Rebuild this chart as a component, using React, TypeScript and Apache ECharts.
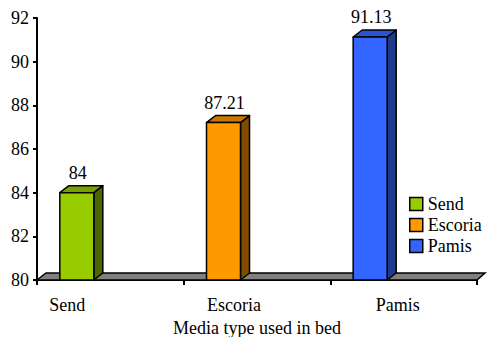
import React, { useEffect, useRef } from "react";
import * as echarts from "echarts";

// Media types and their measured values
const categories = ["Send", "Escoria", "Pamis"];
const values = [84, 87.21, 91.13];

// Value axis range
const yMin = 80;
const yMax = 92;
const yStep = 2;

// Face colours for the 3D columns
const frontColors = ["#99CC00", "#FF9900", "#3366FF"];
const topColors = ["#79A000", "#C97800", "#2A53CF"];
const sideColors = ["#4C6600", "#7F4C00", "#1F3A8A"];

const FONT = "'Liberation Serif', 'Times New Roman', serif";

// depth of the pseudo-3D extrusion
const DX = 9;
const DY = -7;
const BAR_W = 34;
const BAR_SHIFT = -33.5;

export default function App() {
  const ref = useRef<HTMLDivElement>(null);

  useEffect(() => {
    if (!ref.current) return;
    const chart = echarts.init(ref.current, null, { renderer: "svg" });

    const floorSeries = {
      type: "custom",
      name: "floor",
      z: 1,
      silent: true,
      clip: false,
      data: [[0, yMin]],
      renderItem: (params: any, api: any) => {
        const cs = params.coordSys;
        const y = api.coord([0, yMin])[1];
        const lx = cs.x;
        const rx = cs.x + cs.width;
        return {
          type: "polygon",
          shape: {
            points: [
              [lx, y],
              [rx, y],
              [rx + DX - 1, y + DY],
              [lx + DX, y + DY],
            ],
          },
          style: { fill: "#808080", stroke: "#000", lineWidth: 1.5 },
        };
      },
    };

    const barSeries = categories.map((name, i) => ({
      type: "custom",
      name,
      z: 3,
      clip: false,
      itemStyle: { color: frontColors[i], borderColor: "#000", borderWidth: 1.5 },
      data: [[i, values[i]]],
      renderItem: (_params: any, api: any) => {
        const ci = api.value(0);
        const v = api.value(1);
        const base = api.coord([ci, yMin]);
        const top = api.coord([ci, v]);
        const x0 = base[0] + BAR_SHIFT - BAR_W / 2;
        const x1 = x0 + BAR_W;
        const yt = top[1];
        const yb = base[1];
        const stroke = { stroke: "#000", lineWidth: 1.5, lineJoin: "round" };
        return {
          type: "group",
          children: [
            {
              type: "polygon",
              shape: {
                points: [
                  [x1, yt],
                  [x1 + DX, yt + DY],
                  [x1 + DX, yb + DY],
                  [x1, yb],
                ],
              },
              style: { fill: sideColors[i], ...stroke },
            },
            {
              type: "polygon",
              shape: {
                points: [
                  [x0, yt],
                  [x1, yt],
                  [x1 + DX, yt + DY],
                  [x0 + DX, yt + DY],
                ],
              },
              style: { fill: topColors[i], ...stroke },
            },
            {
              type: "rect",
              shape: { x: x0, y: yt, width: BAR_W, height: yb - yt },
              style: { fill: frontColors[i], ...stroke },
            },
            {
              type: "text",
              x: x0 + BAR_W / 2 + 1,
              y: yt - 20,
              style: {
                text: String(v),
                fill: "#000",
                fontFamily: FONT,
                fontSize: 18,
                align: "center",
                verticalAlign: "middle",
              },
            },
          ],
        };
      },
    }));

    // per-label horizontal shift of the category names
    const labelPad: Record<string, number> = { Send: 86, Escoria: 46, Pamis: 12 };

    chart.setOption({
      animation: false,
      backgroundColor: "#fff",
      textStyle: { fontFamily: FONT },
      grid: {
        left: 37,
        right: 10,
        top: 18,
        bottom: 57,
        containLabel: false,
        outerBoundsMode: "none",
      },
      legend: {
        data: categories,
        orient: "vertical",
        left: 409,
        top: 195,
        icon: "rect",
        itemWidth: 13,
        itemHeight: 13,
        itemGap: 3,
        padding: 0,
        selectedMode: false,
        itemStyle: { borderColor: "#000", borderWidth: 1.5 },
        textStyle: { fontFamily: FONT, fontSize: 18, color: "#000" },
      },
      xAxis: {
        type: "category",
        data: categories,
        boundaryGap: true,
        name: "Media type used in bed",
        nameLocation: "middle",
        nameGap: 38,
        nameTextStyle: { fontFamily: FONT, fontSize: 18, color: "#000" },
        axisLine: { show: true, lineStyle: { color: "#000", width: 2 } },
        axisTick: { show: true, length: 5, lineStyle: { color: "#000", width: 2 } },
        axisLabel: {
          margin: 16,
          formatter: (v: string) => `{${v}|${v}}`,
          rich: Object.fromEntries(
            categories.map((c) => [
              c,
              {
                fontFamily: FONT,
                fontSize: 18,
                color: "#000",
                padding: [0, labelPad[c], 0, 0],
              },
            ])
          ),
        },
        splitLine: { show: false },
      },
      yAxis: {
        type: "value",
        min: yMin,
        max: yMax,
        interval: yStep,
        axisLine: { show: true, lineStyle: { color: "#000", width: 2 } },
        axisTick: { show: true, length: 4, lineStyle: { color: "#000", width: 2 } },
        axisLabel: { margin: 8, fontFamily: FONT, fontSize: 18, color: "#000" },
        splitLine: { show: false },
      },
      series: [floorSeries, ...barSeries],
    });

    return () => chart.dispose();
  }, []);

  return (
    <div
      ref={ref}
      style={{ position: "absolute", left: 0, top: 0, width: 487, height: 337 }}
    />
  );
}
